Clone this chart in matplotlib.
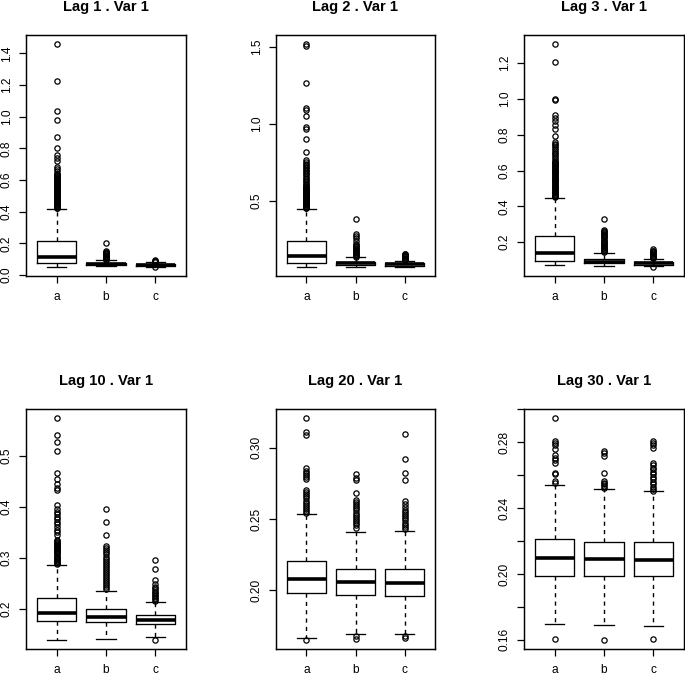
#!/usr/bin/env python3
# Six R-style boxplots: lagged values of Var 1 for groups a, b, c
import matplotlib

matplotlib.use('Agg')

import matplotlib.pyplot as plt  # noqa: E402

plt.rcParams['font.family'] = ['Liberation Sans', 'DejaVu Sans']

GROUPS = ['a', 'b', 'c']
TITLES = ['Lag 1 . Var 1', 'Lag 2 . Var 1', 'Lag 3 . Var 1',
          'Lag 10 . Var 1', 'Lag 20 . Var 1', 'Lag 30 . Var 1']

# box stats per group: whislo, q1, median, q3, whishi
LAG1_STATS = [[0.053, 0.074, 0.112, 0.215, 0.415],
              [0.055, 0.061, 0.068, 0.075, 0.093],
              [0.052, 0.058, 0.063, 0.068, 0.079]]
LAG1_FLIERS = [[0.420, 0.425, 0.430, 0.435, 0.440, 0.445, 0.450, 0.455, 0.460,
                0.465, 0.470, 0.475, 0.480, 0.485, 0.490, 0.495, 0.500, 0.505,
                0.510, 0.515, 0.520, 0.525, 0.530, 0.535, 0.540, 0.545, 0.550,
                0.555, 0.560, 0.565, 0.570, 0.575, 0.580, 0.585, 0.590, 0.595,
                0.600, 0.605, 0.610, 0.615, 0.620, 0.625, 0.630, 0.635, 0.640,
                0.655, 0.67, 0.685, 0.72, 0.737, 0.758, 0.80, 0.869, 0.979,
                1.036, 1.225, 1.459],
               [0.096, 0.101, 0.106, 0.111, 0.116, 0.121, 0.126, 0.131, 0.136,
                0.141, 0.146, 0.152, 0.204],
               [0.050, 0.082, 0.086, 0.090, 0.094]]

LAG2_STATS = [[0.069, 0.093, 0.138, 0.236, 0.446],
              [0.069, 0.083, 0.093, 0.101, 0.132],
              [0.068, 0.078, 0.086, 0.093, 0.110]]
LAG2_FLIERS = [[0.450, 0.455, 0.460, 0.465, 0.470, 0.475, 0.480, 0.485, 0.490,
                0.495, 0.500, 0.505, 0.510, 0.515, 0.520, 0.525, 0.530, 0.535,
                0.540, 0.545, 0.550, 0.555, 0.560, 0.565, 0.570, 0.575, 0.580,
                0.585, 0.590, 0.595, 0.600, 0.61, 0.62, 0.63, 0.64, 0.65, 0.66,
                0.67, 0.68, 0.69, 0.70, 0.71, 0.72, 0.73, 0.74, 0.75, 0.766,
                0.816, 0.90, 0.966, 0.977, 1.049, 1.086, 1.103, 1.263, 1.507, 1.518],
               [0.136, 0.142, 0.148, 0.154, 0.160, 0.166, 0.172, 0.178, 0.184,
                0.190, 0.196, 0.203, 0.210, 0.217, 0.239, 0.255, 0.270, 0.284, 0.378],
               [0.113, 0.118, 0.123, 0.128, 0.133, 0.138, 0.143, 0.148, 0.152, 0.156]]

LAG3_STATS = [[0.070, 0.092, 0.137, 0.235, 0.445],
              [0.068, 0.080, 0.090, 0.105, 0.138],
              [0.065, 0.074, 0.083, 0.090, 0.105]]
LAG3_FLIERS = [[0.450, 0.455, 0.460, 0.465, 0.470, 0.475, 0.480, 0.485, 0.490,
                0.495, 0.500, 0.505, 0.510, 0.515, 0.520, 0.525, 0.530, 0.535,
                0.540, 0.545, 0.550, 0.555, 0.560, 0.565, 0.570, 0.575, 0.580,
                0.585, 0.590, 0.595, 0.600, 0.605, 0.610, 0.615, 0.620, 0.625,
                0.630, 0.635, 0.640, 0.645, 0.650, 0.66, 0.67, 0.68, 0.69, 0.70,
                0.71, 0.72, 0.73, 0.74, 0.75, 0.76, 0.795, 0.835, 0.855, 0.875,
                0.895, 0.91, 0.995, 1.0, 1.207, 1.308],
               [0.142, 0.148, 0.154, 0.160, 0.166, 0.172, 0.178, 0.184, 0.190,
                0.196, 0.202, 0.208, 0.214, 0.220, 0.226, 0.232, 0.238, 0.244,
                0.250, 0.256, 0.262, 0.268, 0.330],
               [0.060, 0.108, 0.113, 0.118, 0.123, 0.128, 0.133, 0.138, 0.143,
                0.148, 0.152, 0.163]]

LAG10_STATS = [[0.139, 0.176, 0.1915, 0.221, 0.2855],
               [0.140, 0.174, 0.1837, 0.1987, 0.235],
               [0.1445, 0.170, 0.177, 0.187, 0.2124]]
LAG10_FLIERS = [[0.288, 0.290, 0.292, 0.294, 0.296, 0.298, 0.300, 0.302, 0.304,
                 0.306, 0.308, 0.310, 0.312, 0.314, 0.316, 0.318, 0.320, 0.322,
                 0.324, 0.326, 0.328, 0.330, 0.332, 0.334, 0.345, 0.350,
                 0.355, 0.360, 0.365, 0.370, 0.375, 0.380, 0.385, 0.390, 0.396,
                 0.404, 0.433, 0.436, 0.4446, 0.4544, 0.4655, 0.5086, 0.526,
                 0.541, 0.574],
                [0.238, 0.242, 0.246, 0.250, 0.254, 0.258, 0.262, 0.266, 0.270,
                 0.274, 0.278, 0.282, 0.286, 0.290, 0.294, 0.298, 0.302, 0.306,
                 0.310, 0.314, 0.318, 0.322, 0.3435, 0.3696, 0.3957],
                [0.138, 0.215, 0.218, 0.221, 0.224, 0.227, 0.230, 0.233, 0.236,
                 0.240, 0.243, 0.248, 0.2555, 0.277, 0.2946]]

LAG20_STATS = [[0.1664, 0.1981, 0.208, 0.2203, 0.2533],
               [0.1694, 0.1965, 0.2056, 0.215, 0.2409],
               [0.1694, 0.1963, 0.2051, 0.2147, 0.2414]]
LAG20_FLIERS = [[0.165, 0.2545, 0.2555, 0.257, 0.2585, 0.260, 0.2615, 0.263,
                 0.2645, 0.266, 0.2675, 0.269, 0.2706, 0.2783, 0.2795, 0.281,
                 0.2825, 0.284, 0.2857, 0.309, 0.311, 0.321],
                [0.166, 0.168, 0.2435, 0.2455, 0.247, 0.2485, 0.250, 0.2515,
                 0.253, 0.2545, 0.256, 0.2575, 0.259, 0.2605, 0.262, 0.2636,
                 0.2682, 0.2771, 0.279, 0.2813],
                [0.1668, 0.1678, 0.2432, 0.2445, 0.246, 0.2475, 0.249, 0.2505,
                 0.252, 0.2535, 0.255, 0.2561, 0.2584, 0.2605, 0.2624, 0.2776,
                 0.2822, 0.2923, 0.3098]]

LAG30_STATS = [[0.1696, 0.199, 0.2096, 0.2211, 0.2541],
               [0.1692, 0.1986, 0.209, 0.2197, 0.2513],
               [0.1682, 0.1986, 0.2086, 0.2197, 0.2502]]
LAG30_FLIERS = [[0.1603, 0.2555, 0.2565, 0.2605, 0.2615, 0.2675, 0.269, 0.2705,
                 0.2722, 0.2756, 0.2786, 0.2796, 0.281, 0.2948],
                [0.1598, 0.2525, 0.2535, 0.2545, 0.2555, 0.2565, 0.2611, 0.2716,
                 0.2733, 0.2746],
                [0.1604, 0.2505, 0.2515, 0.253, 0.2545, 0.256, 0.2575, 0.259,
                 0.2605, 0.262, 0.2635, 0.2645, 0.266, 0.2675, 0.2766, 0.2784,
                 0.2797, 0.281]]

ALL_STATS = [LAG1_STATS, LAG2_STATS, LAG3_STATS, LAG10_STATS, LAG20_STATS, LAG30_STATS]
ALL_FLIERS = [LAG1_FLIERS, LAG2_FLIERS, LAG3_FLIERS, LAG10_FLIERS, LAG20_FLIERS,
              LAG30_FLIERS]

YTICKS = [[0.0, 0.2, 0.4, 0.6, 0.8, 1.0, 1.2, 1.4],
          [0.5, 1.0, 1.5],
          [0.2, 0.4, 0.6, 0.8, 1.0, 1.2],
          [0.2, 0.3, 0.4, 0.5],
          [0.20, 0.25, 0.30],
          [0.16, 0.18, 0.20, 0.22, 0.24, 0.26, 0.28, 0.30]]
YTICK_LABELS = [['0.0', '0.2', '0.4', '0.6', '0.8', '1.0', '1.2', '1.4'],
                ['0.5', '1.0', '1.5'],
                ['0.2', '0.4', '0.6', '0.8', '1.0', '1.2'],
                ['0.2', '0.3', '0.4', '0.5'],
                ['0.20', '0.25', '0.30'],
                ['0.16', '', '0.20', '', '0.24', '', '0.28', '']]

FIG_W, FIG_H = 685, 676
# axes boxes in pixels: left, top, right, bottom
PANEL_BOXES = [(26, 35, 186, 276), (276, 35, 435, 276), (524, 35, 684, 276),
               (26, 409, 186, 649), (276, 409, 435, 649), (524, 409, 684, 649)]


def _draw_panel(ax, title, stats, fliers, yticks, ylabels):
    boxes = []
    values = []
    for name, st, fl in zip(GROUPS, stats, fliers):
        boxes.append({'label': name, 'whislo': st[0], 'q1': st[1], 'med': st[2],
                      'q3': st[3], 'whishi': st[4], 'fliers': fl})
        values += [st[0], st[4]] + list(fl)

    ax.bxp(boxes, positions=[1, 2, 3], widths=0.8,
           boxprops=dict(color='black', linewidth=0.95),
           whiskerprops=dict(color='black', linewidth=1.0, linestyle=(0, (3, 3))),
           capprops=dict(color='black', linewidth=0.95),
           medianprops=dict(color='black', linewidth=2.6, solid_capstyle='butt'),
           flierprops=dict(marker='o', markerfacecolor='none', markeredgecolor='black',
                           markersize=3.8, markeredgewidth=0.9, linestyle='none'))

    lo, hi = min(values), max(values)
    pad = 0.04 * (hi - lo)
    ax.set_ylim(lo - pad, hi + pad)
    ax.set_xlim(0.38, 3.62)

    ax.set_yticks(yticks)
    ax.set_yticklabels(ylabels, rotation=90, va='center')
    ax.set_xticks([1, 2, 3])
    ax.set_xticklabels(GROUPS)
    ax.tick_params(axis='both', direction='out', length=5, width=0.9,
                   labelsize=8.6, color='black')
    ax.tick_params(axis='y', pad=4.5)
    ax.tick_params(axis='x', pad=5.6)
    for spine in ax.spines.values():
        spine.set_linewidth(1.05)
        spine.set_color('black')
    ax.set_title(title, fontsize=10.6, fontweight='bold', pad=17)


def main():
    fig = plt.figure(figsize=(FIG_W / 100, FIG_H / 100), dpi=100)
    for i, (left, top, right, bottom) in enumerate(PANEL_BOXES):
        ax = fig.add_axes([left / FIG_W, 1 - bottom / FIG_H,
                           (right - left) / FIG_W, (bottom - top) / FIG_H])
        _draw_panel(ax, TITLES[i], ALL_STATS[i], ALL_FLIERS[i], YTICKS[i],
                    YTICK_LABELS[i])
    fig.savefig('out.png', dpi=100)
    plt.close(fig)


if __name__ == '__main__':
    main()
